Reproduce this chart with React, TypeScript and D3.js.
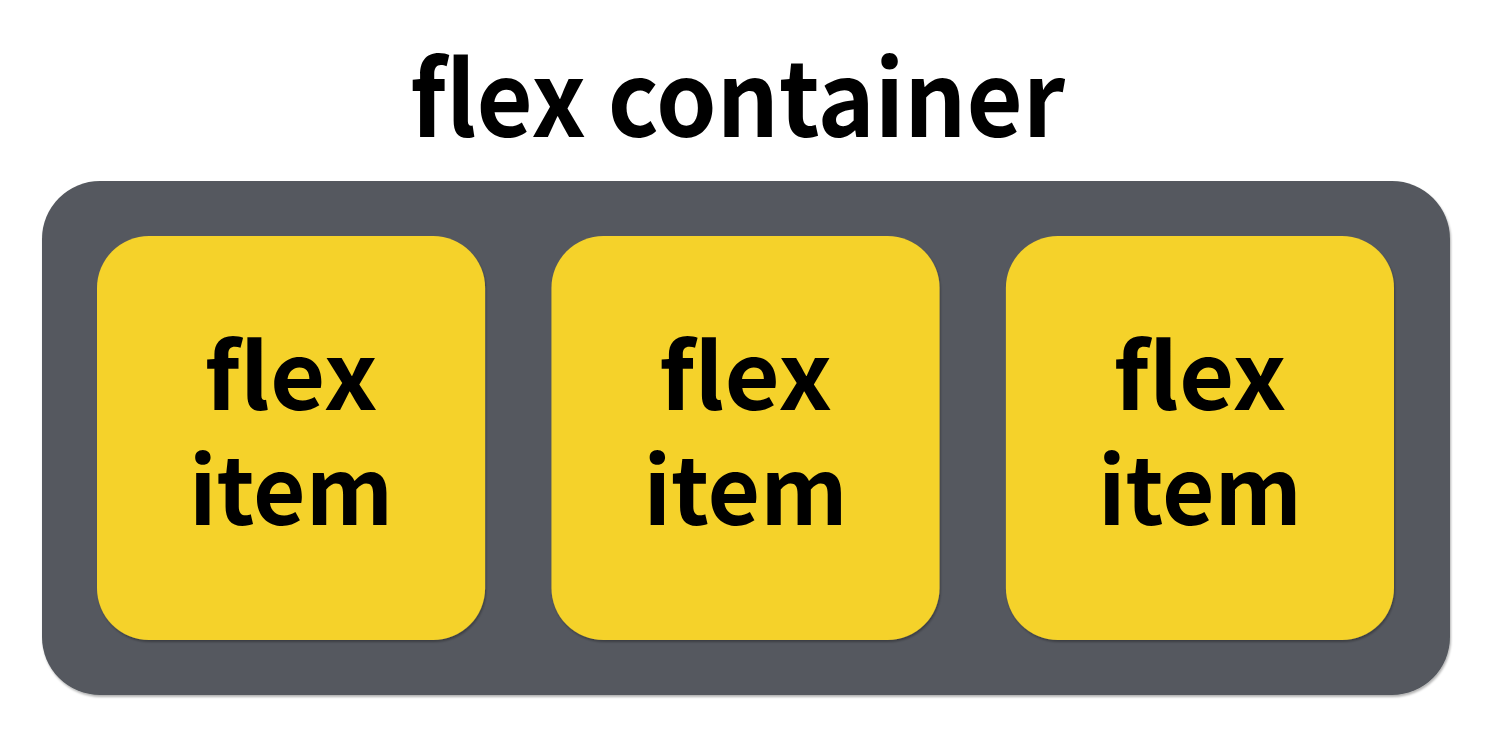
import * as d3 from 'd3';
import { useEffect, useRef } from 'react';

const title = 'flex container';
const items = ['item1', 'item2', 'item3'];
const itemLines = ['flex', 'item'];

const width = 1512;
const height = 738;

const App = () => {
  const ref = useRef<SVGSVGElement>(null);

  useEffect(() => {
    const svg = d3.select(ref.current);
    svg.selectAll('*').remove();

    const box = { left: 42, right: 1450, top: 181, bottom: 695 };
    const inner = { left: 97, right: 1394, top: 236, bottom: 640 };

    const x = d3
      .scaleBand()
      .domain(items)
      .range([inner.left, inner.right])
      .paddingInner(0.146);

    const defs = svg.append('defs');
    const shadow = defs.append('filter').attr('id', 'shadow').attr('x', '-5%').attr('y', '-5%').attr('width', '110%').attr('height', '115%');
    shadow
      .append('feDropShadow')
      .attr('dx', 1)
      .attr('dy', 2)
      .attr('stdDeviation', 1.2)
      .attr('flood-color', '#000')
      .attr('flood-opacity', 0.3);

    svg
      .append('text')
      .attr('x', 737.5)
      .attr('y', 137)
      .attr('text-anchor', 'middle')
      .attr('font-family', '"Noto Sans CJK KR", "Noto Sans", sans-serif')
      .attr('font-weight', 700)
      .attr('font-size', 103)
      .attr('textLength', 655)
      .attr('lengthAdjust', 'spacingAndGlyphs')
      .attr('fill', '#000')
      .text(title);

    svg
      .append('rect')
      .attr('x', box.left)
      .attr('y', box.top)
      .attr('width', box.right - box.left)
      .attr('height', box.bottom - box.top)
      .attr('rx', 58)
      .attr('fill', '#54585e')
      .attr('filter', 'url(#shadow)');

    const g = svg
      .selectAll('g.item')
      .data(items)
      .join('g')
      .attr('class', 'item')
      .attr('transform', (d) => `translate(${x(d)},${inner.top})`);

    g.append('rect')
      .attr('width', x.bandwidth())
      .attr('height', inner.bottom - inner.top)
      .attr('rx', 52)
      .attr('fill', '#f5d22b')
      .attr('filter', 'url(#shadow)');

    const lineWidths = [173, 204];
    const baselines = [410, 525];
    g.selectAll('text')
      .data(itemLines)
      .join('text')
      .attr('x', x.bandwidth() / 2)
      .attr('y', (_, i) => baselines[i] - inner.top)
      .attr('text-anchor', 'middle')
      .attr('font-family', '"Noto Sans CJK KR", "Noto Sans", sans-serif')
      .attr('font-weight', 700)
      .attr('font-size', 92)
      .attr('textLength', (_, i) => lineWidths[i])
      .attr('lengthAdjust', 'spacingAndGlyphs')
      .attr('fill', '#000')
      .text((d) => d);
  }, []);

  return (
    <svg
      ref={ref}
      width={width}
      height={height}
      viewBox={`0 0 ${width} ${height}`}
      style={{ position: 'absolute', left: 0, top: 0, background: '#fff' }}
    />
  );
};

export default App;
